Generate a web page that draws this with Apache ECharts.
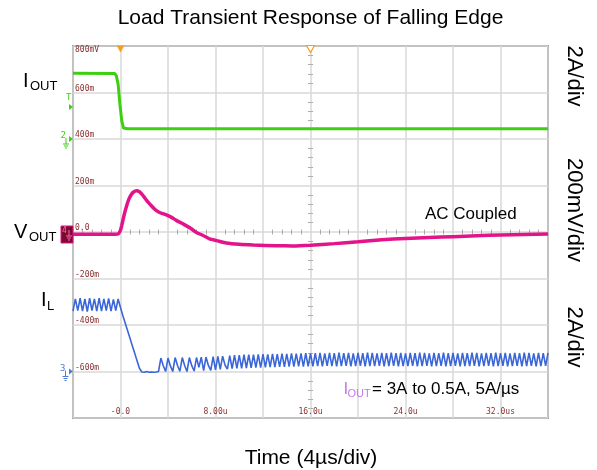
<!DOCTYPE html>
<html><head><meta charset="utf-8">
<script src="https://cdn.jsdelivr.net/npm/echarts@6/dist/echarts.min.js"></script>
<style>html,body{margin:0;padding:0;background:#fff}#c{width:597px;height:470px}</style>
</head><body><div id="c"></div>
<script>
// ---------------- data ----------------
const timeLabelsUs = { '0': '-0.0', '8': '8.00u', '16': '16.0u', '24': '24.0u', '32': '32.0us' };
const voltLabels = { '600': '600m', '400': '400m', '200': '200m', '0': '0.0', '-200': '-200m', '-400': '-400m', '-600': '-600m' };
const voltTopLabel = '800mV';

// IOUT (A) vs time (us)
const ioutT = [-4, -0.5, -0.35, -0.2, -0.05, 0.1, 0.25, 0.35, 0.6, 36];
const ioutA = [2.83, 2.82, 2.72, 2.35, 1.5, 0.8, 0.47, 0.42, 0.44, 0.44];

// VOUT (mV, AC coupled) vs time (us)
const voutT = [-4, -2, -0.5, -0.2, 0.0, 0.1, 0.3, 0.5, 0.7, 0.9, 1.1, 1.35, 1.6, 1.8, 2.0, 2.2, 2.4, 2.6, 2.8, 3.0, 3.25, 3.5, 3.9, 4.3, 4.7, 5.3, 5.9, 6.4, 7.0, 7.5, 8.1, 8.9, 10.0, 11.2, 13.1, 14.5, 16, 18, 20, 22, 24, 26, 28, 30, 32, 34, 36];
const voutMV = [-10, -10, -10, -9, 8, 27, 72, 110, 140, 160, 172, 177, 173, 163, 150, 136, 124, 113, 102, 93, 85, 80, 73, 63, 50, 34, 16, -2, -16, -30, -37, -47, -53, -56, -59, -60, -57, -50, -42, -33, -28, -24, -20, -16, -13, -11, -9];

// IL (A), sampled every 0.2 us starting at -4 us
const ilStartUs = -4, ilStepUs = 0.2;
const ilA = [
  2.60, 3.12, 2.62, 3.15, 2.60, 3.12, 2.58, 3.15, 2.62, 3.12, 2.60, 3.16, 2.60, 3.12, 2.62, 3.14, 2.60, 3.10, 2.62, 3.12,
  2.75, 2.40, 2.08, 1.75, 1.43, 1.10, 0.78, 0.45, 0.13,
  -0.02, -0.03, 0.00, -0.03, -0.02, -0.03, -0.02, 0.00,
  0.58, 0.25, 0.00, 0.58, 0.24, 0.00, 0.60, 0.26, 0.01, 0.60, 0.26, 0.00, 0.60, 0.25, 0.02, 0.60, 0.18, 0.62, 0.04,
  0.62, 0.26, 0.05, 0.64, 0.07, 0.65, 0.09, 0.66, 0.28, 0.10, 0.68, 0.12, 0.70, 0.13, 0.70, 0.14,
  0.72, 0.15, 0.73, 0.16, 0.72, 0.17, 0.74, 0.17, 0.75, 0.18, 0.74, 0.19, 0.76, 0.19, 0.75, 0.20, 0.77, 0.20, 0.76, 0.21,
  0.78, 0.21, 0.77, 0.22, 0.78, 0.21, 0.79, 0.22, 0.78,
  0.22, 0.79, 0.23, 0.80, 0.22, 0.78, 0.24, 0.80, 0.23, 0.79, 0.22, 0.81, 0.23, 0.79, 0.24, 0.80, 0.22, 0.78, 0.23, 0.80,
  0.24, 0.79, 0.22, 0.81, 0.23, 0.80, 0.23, 0.78, 0.24, 0.80, 0.22, 0.79, 0.23, 0.81, 0.24, 0.79, 0.22, 0.80, 0.23, 0.78,
  0.23, 0.80, 0.24, 0.79, 0.22, 0.81, 0.23, 0.80, 0.24, 0.78, 0.22, 0.80, 0.23, 0.79, 0.24, 0.81, 0.22, 0.79, 0.23, 0.80,
  0.24, 0.78, 0.22, 0.80, 0.23, 0.79, 0.23, 0.81, 0.24, 0.80, 0.22, 0.78, 0.23, 0.80, 0.24, 0.79, 0.22, 0.81, 0.23, 0.79,
  0.24, 0.80, 0.22, 0.78, 0.23, 0.80, 0.24, 0.79, 0.22, 0.81, 0.23, 0.80, 0.24, 0.78, 0.22, 0.80, 0.23, 0.79, 0.24, 0.80
];
const triggerLevelA = 1.38;

// ---------------- chart ----------------
const SANS = 'Liberation Sans, Arial, sans-serif';
const MONO = 'DejaVu Sans Mono, monospace';
const LBL = '#8a3030';
const GRIDC = '#d9d9d9';
const GREEN = '#3ccf12', PINK = '#e3138a', BLUE = '#3a66d8', ORANGE = '#f5a020';

const ioutData = ioutT.map((t, i) => [t, ioutA[i]]);
const voutData = voutT.map((t, i) => [t, voutMV[i]]);
const ilData = ilA.map((v, i) => [Math.round((ilStartUs + i * ilStepUs) * 10) / 10, v]);

const chart = echarts.init(document.getElementById('c'), null, { renderer: 'canvas' });

const centerTickAxis = (inside) => ({
  type: 'value', min: -20, max: 20, interval: 4, position: 'bottom',
  axisLine: { show: true, onZero: true, onZeroAxisIndex: 0, lineStyle: { opacity: 0 } },
  axisTick: { show: false, inside: inside },
  minorTick: { show: true, splitNumber: 5, length: 2.5, lineStyle: { color: '#aaaaaa', width: 1 } },
  axisLabel: { show: false }, splitLine: { show: false }
});
const centerTickYAxis = (inside) => ({
  type: 'value', min: -4, max: 4, interval: 1, position: 'left',
  axisLine: { show: true, onZero: true, onZeroAxisIndex: 1, lineStyle: { opacity: 0 } },
  axisTick: { show: false, inside: inside },
  minorTick: { show: true, splitNumber: 5, length: 2.5, lineStyle: { color: '#aaaaaa', width: 1 } },
  axisLabel: { show: false }, splitLine: { show: false }
});

chart.setOption({
  animation: false,
  backgroundColor: '#ffffff',
  grid: { left: 73, top: 46, width: 475, height: 372, show: true, borderColor: '#555555', borderWidth: 1.5,
          backgroundColor: '#ffffff', containLabel: false, outerBoundsMode: 'none' },
  xAxis: [
    { type: 'value', min: -4, max: 36, interval: 4, position: 'bottom',
      axisLine: { show: false, onZero: false }, axisTick: { show: false },
      splitLine: { show: true, lineStyle: { color: GRIDC, width: 1.5 } },
      axisLabel: { inside: true, margin: 2, verticalAlign: 'bottom', color: LBL, fontFamily: MONO, fontSize: 8,
                   formatter: v => timeLabelsUs[String(v)] || '' } },
    centerTickAxis(false),
    centerTickAxis(true)
  ],
  yAxis: [
    { type: 'value', min: -800, max: 800, interval: 200, position: 'left',
      axisLine: { show: false, onZero: false }, axisTick: { show: false },
      splitLine: { show: true, lineStyle: { color: GRIDC, width: 1.5 } },
      axisLabel: { inside: true, margin: 2, verticalAlign: 'bottom', color: LBL, fontFamily: MONO, fontSize: 8,
                   formatter: v => voltLabels[String(v)] || '' } },
    { type: 'value', min: -800, max: 800, interval: 200, position: 'left',
      axisLine: { show: false, onZero: false }, axisTick: { show: false }, splitLine: { show: false },
      axisLabel: { inside: true, margin: 2, verticalAlign: 'top', color: LBL, fontFamily: MONO, fontSize: 8,
                   formatter: v => (v === 800 ? voltTopLabel : '') } },
    { type: 'value', min: -12, max: 4, show: false, axisLine: { onZero: false }, splitLine: { show: false } },
    { type: 'value', min: -2, max: 14, show: false, axisLine: { onZero: false }, splitLine: { show: false } },
    centerTickYAxis(false),
    centerTickYAxis(true)
  ],
  series: [
    { type: 'line', name: 'IL', xAxisIndex: 0, yAxisIndex: 3, data: ilData, symbol: 'none', silent: true,
      lineStyle: { color: BLUE, width: 1.6 }, z: 3 },
    { type: 'line', name: 'VOUT', xAxisIndex: 0, yAxisIndex: 0, data: voutData, symbol: 'none', silent: true,
      smooth: 0.15,
      lineStyle: { color: PINK, width: 3.5 }, z: 4,
      markPoint: { silent: true, symbol: 'triangle', symbolRotate: 180, symbolSize: [8, 7], symbolOffset: [0, 3],
        label: { show: false },
        data: [
          { coord: [0, 800], itemStyle: { color: ORANGE } },
          { coord: [16, 800], itemStyle: { color: '#ffffff', borderColor: ORANGE, borderWidth: 1.2 } }
        ] } },
    { type: 'line', name: 'IOUT', xAxisIndex: 0, yAxisIndex: 2, data: ioutData, symbol: 'none', silent: true,
      lineStyle: { color: GREEN, width: 3 }, z: 5 }
  ]
});

// ---------------- annotations ----------------
const px = (axis, idx, v) => chart.convertToPixel(axis === 'x' ? { xAxisIndex: idx } : { yAxisIndex: idx }, v);
const xL = px('x', 0, -4);
const yG0 = px('y', 2, 0), yTrig = px('y', 2, triggerLevelA), yV0 = px('y', 0, 0), yB0 = px('y', 3, 0);

function arrow(y, color) {
  return { type: 'polygon', shape: { points: [[xL - 4, y - 3], [xL, y], [xL - 4, y + 3]] }, style: { fill: color }, silent: true };
}
function ground(x, y, color) {
  return [
    { type: 'line', shape: { x1: x, y1: y - 3, x2: x, y2: y + 3 }, style: { stroke: color, lineWidth: 1 } },
    { type: 'line', shape: { x1: x - 3, y1: y + 3, x2: x + 3, y2: y + 3 }, style: { stroke: color, lineWidth: 1 } },
    { type: 'line', shape: { x1: x - 2, y1: y + 5, x2: x + 2, y2: y + 5 }, style: { stroke: color, lineWidth: 1 } },
    { type: 'line', shape: { x1: x - 1, y1: y + 7, x2: x + 1, y2: y + 7 }, style: { stroke: color, lineWidth: 1 } }
  ];
}
function txt(x, y, text, size, color, opts) {
  return Object.assign({ type: 'text', x: x, y: y, silent: true,
    style: Object.assign({ text: text, fontSize: size, fontFamily: SANS, fill: color, align: 'left', verticalAlign: 'middle' }, opts || {}) });
}

const g = [];
// title & axis name
g.push(txt(310.5, 18, 'Load Transient Response of Falling Edge', 21, '#000', { align: 'center' }));
g.push(txt(311, 458, 'Time (4µs/div)', 21, '#000', { align: 'center' }));
// right scale labels (rotated)
[['2A/div', 76], ['200mV/div', 210], ['2A/div', 337]].forEach(([t, y]) => {
  g.push({ type: 'text', x: 574, y: y, rotation: -Math.PI / 2, silent: true,
    style: { text: t, fontSize: 22, fontFamily: SANS, fill: '#000', align: 'center', verticalAlign: 'middle' } });
});
// left channel names
g.push(txt(23, 81, 'I', 20, '#000'));
g.push(txt(30, 86, 'OUT', 13, '#000'));
g.push(txt(14, 232, 'V', 20, '#000'));
g.push(txt(29, 237, 'OUT', 13, '#000'));
g.push(txt(41, 300, 'I', 20, '#000'));
g.push(txt(47, 306, 'L', 13, '#000'));
// in-plot notes
g.push(txt(425, 214.5, 'AC Coupled', 17, '#000'));
g.push(txt(343.5, 389.8, 'I', 17, '#c77ae6'));
g.push(txt(347.5, 393.5, 'OUT', 11, '#c77ae6'));
g.push(txt(372, 389.8, '= 3A to 0.5A, 5A/µs', 17, '#000'));
// channel markers
g.push(txt(66, yTrig - 9, 'T', 9, GREEN, { fontFamily: MONO }));
g.push(arrow(yTrig, GREEN));
g.push(txt(60.5, yG0 - 3, '2', 9, GREEN, { fontFamily: MONO }));
g.push(...ground(66, yG0 + 2, GREEN));
g.push(arrow(yG0, GREEN));
g.push({ type: 'rect', shape: { x: 61, y: yV0 - 6, width: 12, height: 17 }, style: { fill: '#7c0a2e', stroke: PINK, lineWidth: 1 }, silent: true });
g.push(txt(62, yV0 - 1, '4', 8, '#ff6ab8', { fontFamily: MONO }));
g.push(...ground(69, yV0 + 1, '#ff6ab8'));
g.push(txt(60, yB0 - 3, '3', 9, '#4a7ae0', { fontFamily: MONO }));
g.push(...ground(65.5, yB0 + 2, '#4a7ae0'));
g.push(arrow(yB0, '#4a7ae0'));

chart.setOption({ graphic: { elements: g } });
</script>
</body></html>
